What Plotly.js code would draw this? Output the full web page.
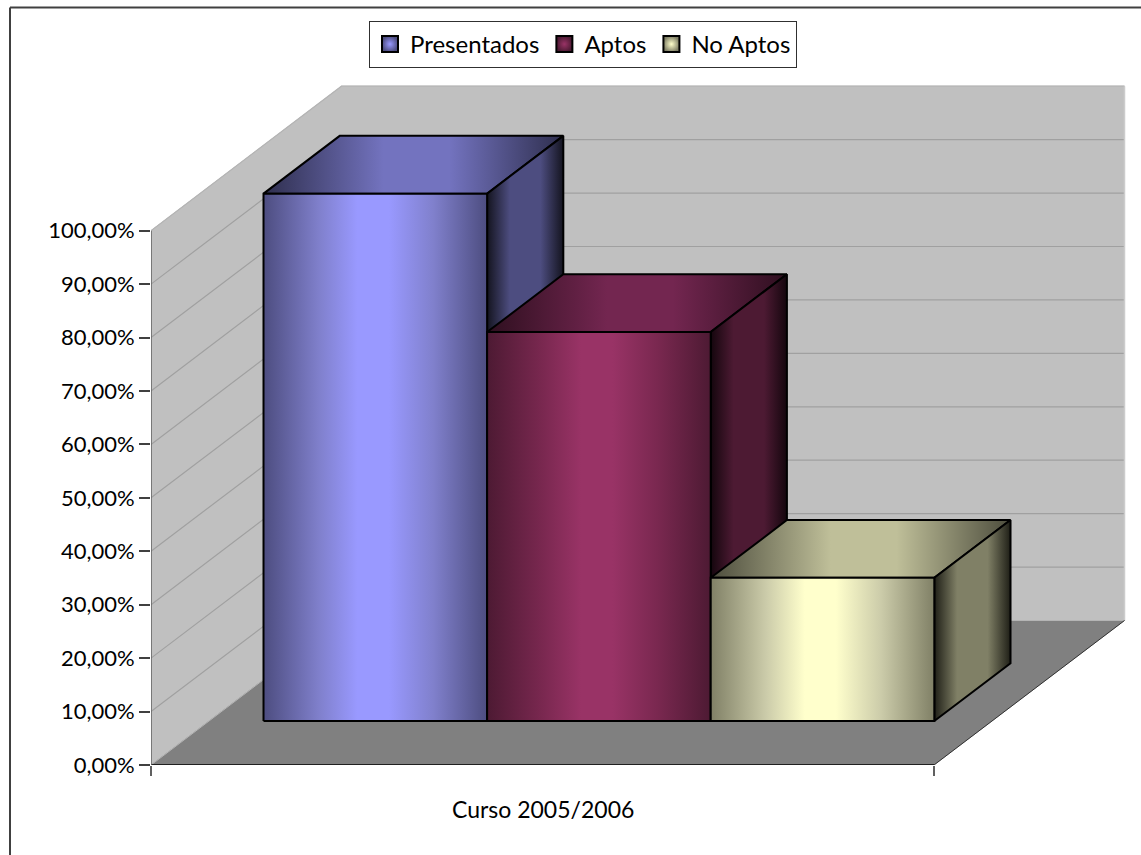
<!DOCTYPE html>
<html><head><meta charset="utf-8">
<script src="https://cdn.plot.ly/plotly-3.0.1.min.js"></script>
<style>html,body{margin:0;padding:0;background:#fff;overflow:hidden}#c{width:1141px;height:855px}</style>
</head><body><div id="c"></div>
<script>
// ---- data
const category = 'Curso 2005/2006';
const seriesNames = ['Presentados', 'Aptos', 'No Aptos'];
const seriesValues = [98.7, 72.8, 26.8];
const yTicks = [0,10,20,30,40,50,60,70,80,90,100];
const yTickLabels = ['0,00%','10,00%','20,00%','30,00%','40,00%','50,00%','60,00%','70,00%','80,00%','90,00%','100,00%'];

// ---- colours per series: [edge, mid, centre] for front; side and top ramps
const frontRamp = [['#4d4d80','#8080cc','#9999ff'],['#4d1a33','#7a2850','#993366'],['#808066','#ccccaa','#ffffcc']];
const sideRamp  = [['#14141f','#4d4d80'],['#14060d','#4d1a33'],['#1f1f17','#808066']];
const topRamp   = [['#2e2e4d','#7373bf'],['#2e0f1f','#732650'],['#4d4d3d','#bfbf99']];

// ---- oblique projection settings
const pxX = 783, pxY = 5.343;          // px per x unit, px per percent
const depthX = 190.5/pxX, depthY = 144.5/pxY; // shift of full floor depth
const z0 = 0.3045, z1 = 0.7045;        // bar extent in floor depth
const barW = 223.6/pxX, barStart = 54.5/pxX; // bars sit side by side
const plotL=151, plotB=765, plotT=80, plotR=1131;
const W=1141, H=855;
const P = (x,y,z)=>[x+z*depthX, y+z*depthY];
function poly(pts, opts){
  const c = pts.map(p=>P(p[0],p[1],p[2])); c.push(c[0]);
  return Object.assign({type:'scatter',mode:'lines',x:c.map(p=>p[0]),y:c.map(p=>p[1]),
    fill:'toself',hoverinfo:'skip',showlegend:false},opts);
}
function seg(a,b,color,width){
  const p=P(...a),q=P(...b);
  return {type:'scatter',mode:'lines',x:[p[0],q[0]],y:[p[1],q[1]],line:{color:color,width:width},hoverinfo:'skip',showlegend:false};
}
const traces=[];
const wall='#c0c0c0', wallEdge='#b4b4b4', gridC='#a0a0a0';
traces.push(poly([[0,0,0],[0,100,0],[0,100,1],[0,0,1]],{fillcolor:wall,line:{color:wall,width:1}}));
traces.push(poly([[0,0,1],[0,100,1],[1,100,1],[1,0,1]],{fillcolor:wall,line:{color:wall,width:1}}));
traces.push(poly([[0,0,0],[1,0,0],[1,0,1],[0,0,1]],{fillcolor:'#808080',line:{color:'#808080',width:0.5}}));
yTicks.slice(1).forEach(v=>{
  const c = v===100 ? wallEdge : gridC;
  traces.push({type:'scatter',mode:'lines',
    x:[P(0,v,0)[0],P(0,v,1)[0],P(1,v,1)[0]],
    y:[P(0,v,0)[1],P(0,v,1)[1],P(1,v,1)[1]],
    line:{color:c,width:1.2},hoverinfo:'skip',showlegend:false});
});
traces.push(seg([1,0,1],[1,100,1],'#cccccc',1.5));
traces.push(seg([0,0,0],[0,0,1],'#b4b4b4',1));
traces.push(seg([0,0,1],[1,0,1],'#b4b4b4',1));
traces.push(seg([1,0,0],[1,0,1],'#303030',1));
traces.push(seg([0,0,0],[1,0,0],'#000000',1.5));
traces.push(seg([0,0,0],[0,100,0],'#606060',1.5));

const rampF = r=>[[0,r[0]],[0.25,r[1]],[0.42,r[2]],[0.56,r[2]],[0.76,r[1]],[1,r[0]]];
const rampS = r=>[[0,r[0]],[0.3,r[1]],[0.7,r[1]],[1,r[0]]];
const rampT = r=>[[0,r[0]],[0.4,r[1]],[0.62,r[1]],[1,r[0]]];
const edge={color:'#000',width:2};
seriesValues.forEach((v,i)=>{
  const a=barStart+i*barW, b=a+barW;
  traces.push(poly([[a,v,z0],[a,v,z1],[b,v,z1],[b,v,z0]],{line:edge,fillgradient:{type:'horizontal',colorscale:rampT(topRamp[i])}}));
  traces.push(poly([[b,0,z0],[b,v,z0],[b,v,z1],[b,0,z1]],{line:edge,fillgradient:{type:'horizontal',colorscale:rampS(sideRamp[i])}}));
  traces.push(poly([[a,0,z0],[a,v,z0],[b,v,z0],[b,0,z0]],{line:edge,fillgradient:{type:'horizontal',colorscale:rampF(frontRamp[i])}}));
});
// legend entries
seriesNames.forEach((n,i)=>{
  traces.push({type:'scatter',mode:'markers',name:n,x:[null],y:[null],hoverinfo:'skip',
    marker:{symbol:'square',size:16,color:frontRamp[i][0],gradient:{type:'radial',color:frontRamp[i][2]},line:{color:'#000',width:2}}});
});

const pw=plotR-plotL, ph=plotB-plotT;
const px=x=>(x-plotL)/pw, py=y=>(plotB-y)/ph;
const font='Lato, sans-serif';
const layout={
  width:W,height:H,autosize:false,
  margin:{l:plotL,r:W-plotR,t:plotT,b:H-plotB,pad:0},
  paper_bgcolor:'#fff',plot_bgcolor:'rgba(0,0,0,0)',
  font:{family:font,size:22,color:'#000'},
  xaxis:{range:[0,pw/pxX],showgrid:false,zeroline:false,showline:false,tickmode:'array',tickvals:[0,1],ticktext:['',''],ticks:'outside',ticklen:10,tickwidth:1.5,tickcolor:'#606060',fixedrange:true},
  yaxis:{range:[0,ph/pxY],showgrid:false,zeroline:false,showline:false,tickmode:'array',tickvals:yTicks,ticktext:yTickLabels,ticks:'outside',ticklen:11,tickwidth:1.5,tickcolor:'#404040',fixedrange:true,tickfont:{family:font,size:22,color:'#000'}},
  legend:{orientation:'h',x:px(369),xanchor:'left',y:py(21),yanchor:'top',bgcolor:'#fff',bordercolor:'#303030',borderwidth:1,font:{family:font,size:24,color:'#000'},itemclick:false,itemdoubleclick:false},
  showlegend:true,
  annotations:[{xref:'x',x:0.5,yref:'paper',y:py(809),text:category,showarrow:false,xanchor:'center',yanchor:'middle',font:{family:font,size:23,color:'#000'}}],
  shapes:[
    {type:'line',xref:'paper',yref:'paper',x0:px(10),x1:px(10),y0:py(855),y1:py(7.5),line:{color:'#404040',width:2},layer:'below'},
    {type:'line',xref:'paper',yref:'paper',x0:px(10),x1:px(1141),y0:py(7.5),y1:py(7.5),line:{color:'#404040',width:2},layer:'below'}
  ]
};
Plotly.newPlot('c',traces,layout,{displayModeBar:false,staticPlot:false});
</script></body></html>
